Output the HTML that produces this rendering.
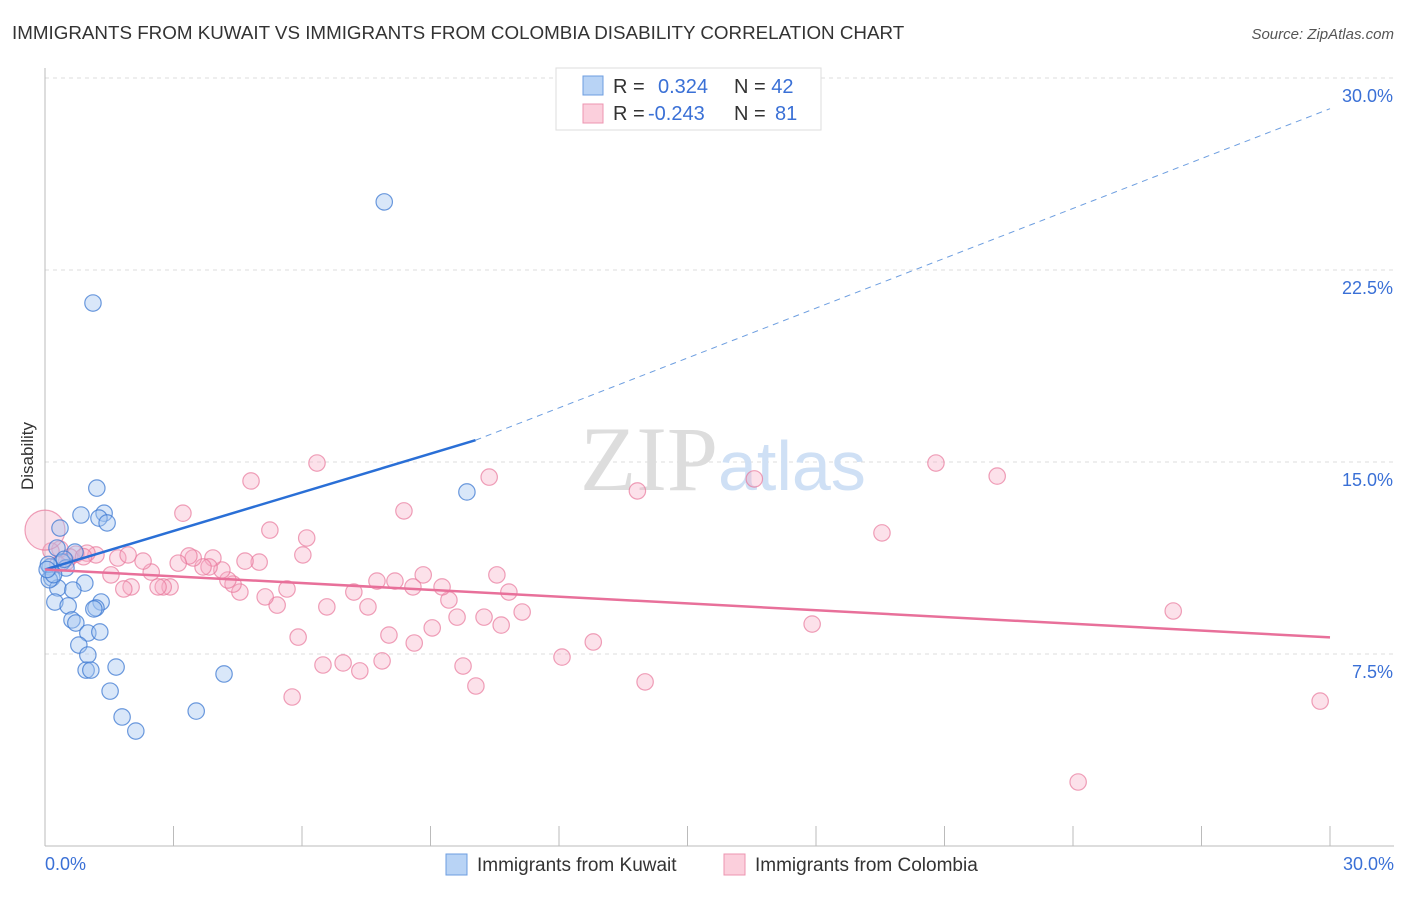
<!DOCTYPE html>
<html><head><meta charset="utf-8"><style>
body{margin:0;background:#fff;font-family:"Liberation Sans",sans-serif}
</style></head><body>
<svg width="1406" height="892" xmlns="http://www.w3.org/2000/svg" font-family="Liberation Sans, sans-serif">
<text x="12" y="39" font-size="18.8" fill="#333">IMMIGRANTS FROM KUWAIT VS IMMIGRANTS FROM COLOMBIA DISABILITY CORRELATION CHART</text>
<text x="1394" y="39" font-size="15" fill="#555" font-style="italic" text-anchor="end">Source: ZipAtlas.com</text>
<text x="33" y="456" font-size="17" fill="#333" transform="rotate(-90 33 456)" text-anchor="middle">Disability</text>
<g id="grid"></g>
<text x="718" y="490" font-size="92" font-family="Liberation Serif, serif" fill="#ddd" text-anchor="end">ZIP</text>
<text x="718" y="490" font-size="70" fill="#cfe0f5">atlas</text>
<g id="marks"></g>
<g>
<rect x="556" y="68" width="265" height="62" fill="#fff" stroke="#ddd"/>
<rect x="583" y="76" width="20" height="19" fill="#b8d3f5" stroke="#6d9ee0"/>
<rect x="583" y="104" width="20" height="19" fill="#fbcfdc" stroke="#ec94b0"/>
<text x="613" y="93" font-size="20" fill="#333">R = <tspan x="658" fill="#3a70d6">0.324</tspan><tspan x="734">N = </tspan><tspan fill="#3a70d6">42</tspan></text>
<text x="613" y="120" font-size="20" fill="#333">R = <tspan x="648" fill="#3a70d6">-0.243</tspan><tspan x="734">N = </tspan><tspan x="775" fill="#3a70d6">81</tspan></text>
</g>
<g>
<rect x="446" y="854" width="21" height="21" fill="#b8d3f5" stroke="#6d9ee0"/>
<text x="477" y="871" font-size="19" fill="#333">Immigrants from Kuwait</text>
<rect x="724" y="854" width="21" height="21" fill="#fbcfdc" stroke="#ec94b0"/>
<text x="755" y="871" font-size="19" fill="#333">Immigrants from Colombia</text>
</g>
</svg>
<script>
const yTicks=[7.5,15,22.5,30];
const yTickLabels=["7.5%","15.0%","22.5%","30.0%"];
const xTickLabels=["0.0%","30.0%"];
const kuwaitX=[1.12,7.92,9.85,1.21,0.84,1.38,1.26,1.45,0.35,0.28,0.70,0.40,0.49,0.12,0.16,0.30,0.93,0.65,0.23,0.54,1.31,1.19,1.14,0.63,0.72,1.0,1.28,0.79,1.0,0.96,1.07,1.66,4.18,1.52,1.80,3.53,2.12,0.1,0.08,0.2,0.45,0.05];
const kuwaitY=[21.21,25.16,13.83,13.98,12.93,13.0,12.81,12.62,12.42,11.64,11.48,11.09,10.86,10.9,10.47,10.08,10.27,10.0,9.53,9.38,9.53,9.3,9.26,8.83,8.71,8.32,8.36,7.85,7.46,6.87,6.87,6.99,6.72,6.05,5.04,5.27,4.49,10.4,11.0,10.6,11.2,10.8];
const colX=[29.77,24.12,26.34,20.8,22.23,19.54,17.91,16.56,13.83,14.01,12.8,12.07,10.37,10.06,10.55,10.83,11.14,10.65,10.25,9.76,9.43,9.27,9.62,9.04,8.83,8.62,8.59,8.38,8.17,8.03,7.75,7.87,7.54,7.21,7.35,6.96,6.58,6.49,6.35,6.11,6.02,5.91,5.77,5.65,5.42,5.14,5.25,5.0,4.81,4.67,4.55,4.39,4.27,4.13,3.92,3.83,3.69,3.46,3.36,3.22,3.11,2.92,2.76,2.64,2.48,2.29,2.01,1.84,1.54,1.7,1.94,1.19,0.98,0.72,0.58,0.35,0.14,0.5,0.9,0.3,0.0];
const colY=[5.66,2.5,9.18,14.96,14.45,12.23,8.67,14.34,13.87,6.41,7.97,7.38,14.41,6.25,10.59,9.92,9.14,8.63,8.94,7.03,9.61,10.12,8.94,8.52,10.59,7.93,10.12,13.09,10.35,8.24,10.35,7.23,9.34,9.92,6.84,7.15,9.34,7.07,14.96,12.03,11.37,8.16,5.82,10.04,9.41,9.73,12.34,11.09,14.26,11.13,9.92,10.23,10.39,10.78,11.25,10.9,10.9,11.25,11.33,13.0,11.05,10.12,10.12,10.12,10.7,11.13,10.12,10.04,10.59,11.25,11.37,11.37,11.44,11.4,11.29,11.6,11.52,11.1,11.3,11.0,12.34];
const kuwaitLine=[[0,10.8],[10.05,15.85],[30,28.8]];
const colLine=[[0,10.8],[30,8.15]];
const X=v=>45+v/30*1285, Y=v=>846-v/30*768;
const NS="http://www.w3.org/2000/svg";
function mk(p,t,a){const e=document.createElementNS(NS,t);for(const k in a)e.setAttribute(k,a[k]);p.appendChild(e);return e;}
const g=document.getElementById('grid'),m=document.getElementById('marks');
yTicks.forEach((t,i)=>{
 const l=mk(g,'line',{x1:45,x2:1394,y1:Y(t),y2:Y(t),stroke:'#ddd','stroke-dasharray':'4,4'});
 
 
 const tx=mk(g,'text',{x:1393,y:Y(t)+24,'font-size':18,fill:'#3a70d6','text-anchor':'end'});tx.textContent=yTickLabels[i];
 
 
});
const ax=mk(g,'line',{x1:45,x2:45,y1:68,y2:846,stroke:'#bbb'});


const bx=mk(g,'line',{x1:45,x2:1394,y1:846,y2:846,stroke:'#bbb'});


for(let i=0;i<=10;i++){const t=mk(g,'line',{x1:X(i*3),x2:X(i*3),y1:826,y2:846,stroke:'#bbb'});
 
 }
[[0,'start',45],[30,'end',1394]].forEach((d,i)=>{const t=mk(g,'text',{x:d[2],y:870,'font-size':18,fill:'#3a70d6','text-anchor':d[1]});t.textContent=xTickLabels[i];
 
 });
colX.forEach((v,i)=>{const c=mk(m,'circle',{cx:X(v),cy:Y(colY[i]),r:i==colX.length-1?20:8.2,fill:'rgba(247,170,195,0.35)',stroke:'rgba(232,120,155,0.7)','stroke-width':1.2});
 
 });
kuwaitX.forEach((v,i)=>{const c=mk(m,'circle',{cx:X(v),cy:Y(kuwaitY[i]),r:8.2,fill:'rgba(160,195,240,0.4)',stroke:'rgba(60,120,210,0.75)','stroke-width':1.2});
 
 });
const l1=mk(m,'line',{x1:X(kuwaitLine[0][0]),y1:Y(kuwaitLine[0][1]),x2:X(kuwaitLine[1][0]),y2:Y(kuwaitLine[1][1]),stroke:'#2a6fd6','stroke-width':2.5});


const l2=mk(m,'line',{x1:X(kuwaitLine[1][0]),y1:Y(kuwaitLine[1][1]),x2:X(kuwaitLine[2][0]),y2:Y(kuwaitLine[2][1]),stroke:'#6d9ee0','stroke-width':1,'stroke-dasharray':'6,5'});


const l3=mk(m,'line',{x1:X(colLine[0][0]),y1:Y(colLine[0][1]),x2:X(colLine[1][0]),y2:Y(colLine[1][1]),stroke:'#e8709a','stroke-width':2.5});


</script>
</body></html>
